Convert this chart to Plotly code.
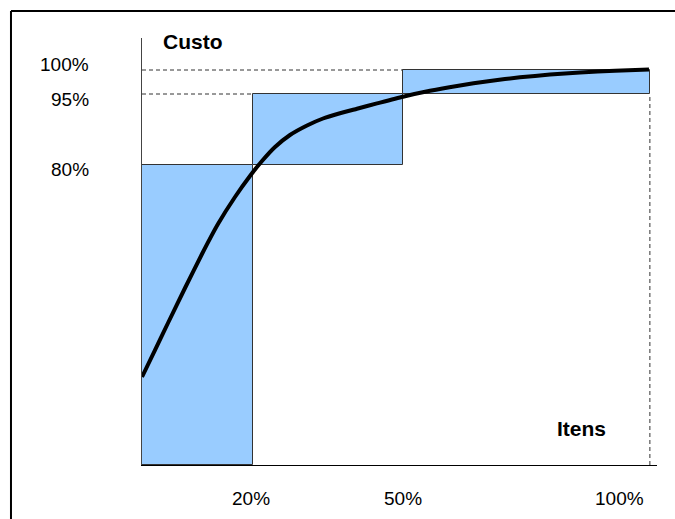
import plotly.graph_objects as go

# Schematic ABC (Pareto) chart: axis positions are the drawn positions of the breakpoints
x_breaks = [0, 21.85, 51.38, 100]          # display positions of 0, 20%, 50%, 100%
y_breaks = [0, 75.95, 93.92, 100]          # display positions of 0, 80%, 95%, 100%
x_tick_labels = ["20%", "50%", "100%"]
y_tick_labels = ["80%", "95%", "100%"]

curve_x = [0, 2.56, 5.12, 8.47, 11.81, 14.96, 18.31, 21.26, 23.63, 26.19, 29.14, 32.49,
           35.64, 38.98, 42.33, 46.27, 51.39, 56.70, 62.02, 68.52, 74.42, 80.33, 86.24,
           93.13, 99.82]
curve_y = [22.28, 29.11, 35.95, 44.81, 53.42, 61.01, 67.85, 73.16, 76.96, 80.51, 83.54, 85.95,
           87.72, 89.04, 90.20, 91.54, 93.24, 94.73, 95.97, 97.24, 98.15, 98.84, 99.37,
           99.82, 100.1]

FONT = "Liberation Sans, Arial, Helvetica, sans-serif"
X_RANGE = [0, 101.4]
Y_RANGE = [0, 108.1]

fig = go.Figure()

# blue blocks
centers = [(x_breaks[i] + x_breaks[i + 1]) / 2 for i in range(3)]
widths = [x_breaks[i + 1] - x_breaks[i] for i in range(3)]
heights = [y_breaks[i + 1] - y_breaks[i] for i in range(3)]
bases = [y_breaks[i] for i in range(3)]
fig.add_trace(go.Bar(x=centers, y=heights, base=bases, width=widths,
                     marker=dict(color="#99CCFF", line=dict(color="#333333", width=1)),
                     hoverinfo="skip"))

# dashed guide lines
dash_style = dict(color="#333333", width=1, dash="4px,3px")
fig.add_trace(go.Scatter(x=[x_breaks[0], x_breaks[2]], y=[y_breaks[3], y_breaks[3]],
                         mode="lines", line=dash_style, hoverinfo="skip"))
fig.add_trace(go.Scatter(x=[x_breaks[0], x_breaks[1]], y=[y_breaks[2], y_breaks[2]],
                         mode="lines", line=dash_style, hoverinfo="skip"))
fig.add_trace(go.Scatter(x=[x_breaks[3], x_breaks[3]], y=[y_breaks[0], y_breaks[2]],
                         mode="lines", line=dash_style, hoverinfo="skip"))

# cumulative curve
fig.add_trace(go.Scatter(x=curve_x, y=curve_y, mode="lines",
                         line=dict(color="black", width=4, shape="spline", smoothing=0.6),
                         hoverinfo="skip"))

annotations = []
for lab, yv, ys in zip(y_tick_labels, y_breaks[1:], [-5, -5, 6]):
    annotations.append(dict(x=-0.099, y=yv, xref="paper", yref="y", text=lab, showarrow=False,
                            xanchor="right", yanchor="middle", yshift=ys,
                            font=dict(family=FONT, size=19, color="black")))
for lab, xv, anc, xs in zip(x_tick_labels, x_breaks[1:], ["center", "center", "right"], [-2, 0, -4]):
    annotations.append(dict(x=xv, y=-0.0796, xref="x", yref="paper", text=lab, showarrow=False,
                            xanchor=anc, yanchor="middle", xshift=xs,
                            font=dict(family=FONT, size=19, color="black")))
annotations.append(dict(x=3.7, y=107.3, xref="x", yref="y", text="<b>Custo</b>", showarrow=False,
                        xanchor="left", yanchor="middle",
                        font=dict(family=FONT, size=21, color="black")))
annotations.append(dict(x=86.6, y=9.2, xref="x", yref="y", text="<b>Itens</b>", showarrow=False,
                        xanchor="center", yanchor="middle",
                        font=dict(family=FONT, size=21, color="black")))

border = dict(color="black", width=2)
fig.update_layout(
    width=675, height=519,
    margin=dict(l=142, r=18, t=38, b=54),
    paper_bgcolor="white", plot_bgcolor="white",
    showlegend=False,
    annotations=annotations,
    shapes=[
        dict(type="line", xref="paper", yref="paper", x0=-0.2544, x1=1.1,
             y0=1.0632, y1=1.0632, line=border, layer="above"),
        dict(type="line", xref="paper", yref="paper", x0=-0.2544, x1=-0.2544,
             y0=-0.2, y1=1.0632, line=border, layer="above"),
    ],
    xaxis=dict(range=X_RANGE, showgrid=False, zeroline=False, showticklabels=False,
               ticks="", showline=True, linecolor="black", linewidth=1),
    yaxis=dict(range=Y_RANGE, showgrid=False, zeroline=False, showticklabels=False,
               ticks="", showline=True, linecolor="#444444", linewidth=1),
    bargap=0,
)

fig.write_html("out.html")
